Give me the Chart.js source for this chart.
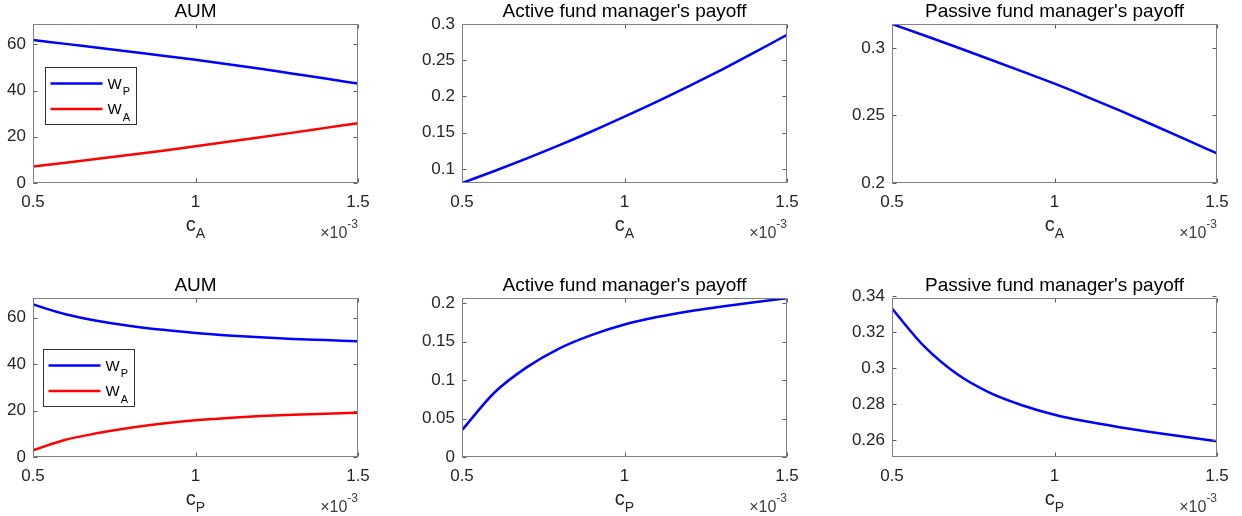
<!DOCTYPE html>
<html>
<head>
<meta charset="utf-8">
<script src="https://cdn.jsdelivr.net/npm/chart.js@4.4.1/dist/chart.umd.min.js"></script>
<style>
    html, body { margin: 0; padding: 0; background: #fff; overflow: hidden; }
    body { width: 1242px; height: 516px; position: relative; }
    canvas { position: absolute; }
</style>
</head>
<body>
<script>
// x values are in units of 1e-3 (axis shows the x10^-3 multiplier)
const xValues = [0.5, 0.6, 0.7, 0.8, 0.9, 1.0, 1.1, 1.2, 1.3, 1.4, 1.5];
const xTicks = [0.5, 1, 1.5];

// varying c_A (top row)
const wP_cA = [61.9, 60.2, 58.5, 56.8, 55.1, 53.3, 51.4, 49.4, 47.3, 45.2, 43.0];
const wA_cA = [7.1, 8.75, 10.45, 12.2, 14.0, 15.9, 17.85, 19.8, 21.8, 23.85, 25.9];
const activePay_cA = [0.0806, 0.0972, 0.1146, 0.1328, 0.1520, 0.1722, 0.1929, 0.2146, 0.2372, 0.2607, 0.2850];
const passivePay_cA = [0.3177, 0.3092, 0.3005, 0.2916, 0.2826, 0.2735, 0.2638, 0.2537, 0.2433, 0.2327, 0.2219];

// varying c_P (bottom row)
const wP_cP = [65.6, 61.4, 58.5, 56.4, 54.7, 53.3, 52.3, 51.5, 50.8, 50.3, 49.8];
const wA_cP = [2.9, 7.4, 10.3, 12.6, 14.4, 15.8, 16.8, 17.6, 18.2, 18.65, 19.0];
const activePay_cP = [0.035, 0.084, 0.117, 0.1415, 0.159, 0.1725, 0.1822, 0.1898, 0.1958, 0.2015, 0.2068];
const passivePay_cP = [0.3332, 0.3120, 0.2968, 0.2865, 0.2795, 0.2742, 0.2704, 0.2673, 0.2645, 0.2619, 0.2595];

// y tick labels
const yTicksAUM = [0, 20, 40, 60];
const yTicksActive_cA = [0.1, 0.15, 0.2, 0.25, 0.3];
const yTicksPassive_cA = [0.2, 0.25, 0.3];
const yTicksActive_cP = [0, 0.05, 0.1, 0.15, 0.2];
const yTicksPassive_cP = [0.26, 0.28, 0.3, 0.32, 0.34];

const BLUE = '#0000ff';
const RED = '#ff0000';
const FONT = '"Liberation Sans", Arial, sans-serif';

// layout of the 2x3 grid (plot areas)
const AXIS_W = 60, PAD_TOP = 30, AXIS_H = 60, PAD_RIGHT = 40;
const PLOT_W = 325, PLOT_H = 159;
const colLeft = [33, 462, 892];
const rowTop = [24, 298];

const panels = [
    { row: 0, col: 0, title: 'AUM', xSub: 'A', yMin: 0, yMax: 68.8, yTicks: yTicksAUM,
      series: [{ label: 'W_P', values: wP_cA, color: BLUE }, { label: 'W_A', values: wA_cA, color: RED }],
      legend: { dx: 12, dy: 43 } },
    { row: 0, col: 1, title: "Active fund manager's payoff", xSub: 'A', yMin: 0.0806, yMax: 0.3, yTicks: yTicksActive_cA,
      series: [{ label: 'active', values: activePay_cA, color: BLUE }] },
    { row: 0, col: 2, title: "Passive fund manager's payoff", xSub: 'A', yMin: 0.2, yMax: 0.3177, yTicks: yTicksPassive_cA,
      series: [{ label: 'passive', values: passivePay_cA, color: BLUE }] },
    { row: 1, col: 0, title: 'AUM', xSub: 'P', yMin: 0, yMax: 68.4, yTicks: yTicksAUM,
      series: [{ label: 'W_P', values: wP_cP, color: BLUE }, { label: 'W_A', values: wA_cP, color: RED }],
      legend: { dx: 10, dy: 51 } },
    { row: 1, col: 1, title: "Active fund manager's payoff", xSub: 'P', yMin: 0, yMax: 0.207, yTicks: yTicksActive_cP,
      series: [{ label: 'active', values: activePay_cP, color: BLUE }] },
    { row: 1, col: 2, title: "Passive fund manager's payoff", xSub: 'P', yMin: 0.2507, yMax: 0.3391, yTicks: yTicksPassive_cP,
      series: [{ label: 'passive', values: passivePay_cP, color: BLUE }] }
];

// draws the MATLAB-like box, inward ticks, title, x label, exponent and legend
const matlabLook = {
    id: 'matlabLook',
    afterDraw(chart, args, opts) {
        const { ctx, chartArea: a, scales } = chart;
        const L = Math.round(a.left) + 0.5, R = Math.round(a.right) - 0.5;
        const T = Math.round(a.top) + 0.5, B = Math.round(a.bottom) - 0.5;
        ctx.save();

        // inward tick marks on all four sides
        ctx.strokeStyle = '#5a5a5a';
        ctx.lineWidth = 1;
        ctx.beginPath();
        scales.x.ticks.forEach(t => {
            const px = Math.round(scales.x.getPixelForValue(t.value)) + 0.5;
            ctx.moveTo(px, B); ctx.lineTo(px, B - 4);
            ctx.moveTo(px, T); ctx.lineTo(px, T + 4);
        });
        scales.y.ticks.forEach(t => {
            const py = Math.round(scales.y.getPixelForValue(t.value)) + 0.5;
            ctx.moveTo(L, py); ctx.lineTo(L + 4, py);
            ctx.moveTo(R, py); ctx.lineTo(R - 4, py);
        });
        ctx.stroke();

        // axes box
        ctx.strokeStyle = '#808080';
        ctx.strokeRect(L, T, R - L, B - T);

        // title
        ctx.fillStyle = '#000';
        ctx.textAlign = 'left';
        ctx.textBaseline = 'alphabetic';
        ctx.font = '19px ' + FONT;
        const tw = ctx.measureText(opts.title).width;
        ctx.fillText(opts.title, (a.left + a.right) / 2 - tw / 2, a.top - 7);

        // x label c with subscript
        ctx.fillStyle = '#262626';
        ctx.font = '20px ' + FONT;
        const cw = ctx.measureText('c').width;
        ctx.font = '14px ' + FONT;
        const sw = ctx.measureText(opts.xSub).width;
        const cx = (a.left + a.right) / 2 - (cw + sw) / 2;
        ctx.font = '20px ' + FONT;
        ctx.fillText('c', cx, a.bottom + 47.5);
        ctx.font = '14px ' + FONT;
        ctx.fillText(opts.xSub, cx + cw, a.bottom + 55);

        // x10^-3 multiplier
        ctx.fillStyle = '#404040';
        ctx.font = '12px ' + FONT;
        const ew = ctx.measureText('-3').width;
        ctx.font = '16px ' + FONT;
        const mw = ctx.measureText('\u00d710').width;
        ctx.fillText('\u00d710', a.right - ew - mw, a.bottom + 54.5);
        ctx.font = '12px ' + FONT;
        ctx.fillText('-3', a.right - ew, a.bottom + 44.5);

        // legend box
        if (opts.legend) {
            const bx = Math.round(a.left + opts.legend.dx) + 0.5;
            const by = Math.round(a.top + opts.legend.dy) + 0.5;
            const bw = 91, bh = 57;
            ctx.fillStyle = '#fff';
            ctx.fillRect(bx, by, bw, bh);
            ctx.strokeStyle = '#333';
            ctx.lineWidth = 1;
            ctx.strokeRect(bx, by, bw, bh);
            chart.data.datasets.forEach((ds, i) => {
                const ly = by + 16 + i * 25.5;
                ctx.strokeStyle = ds.borderColor;
                ctx.lineWidth = 2.5;
                ctx.beginPath();
                ctx.moveTo(bx + 5, ly);
                ctx.lineTo(bx + 57, ly);
                ctx.stroke();
                const [main, sub] = ds.label.split('_');
                ctx.fillStyle = '#000';
                ctx.font = '15px ' + FONT;
                ctx.fillText(main, bx + 62, ly + 5);
                const ww = ctx.measureText(main).width;
                ctx.font = '11px ' + FONT;
                ctx.fillText(sub, bx + 62 + ww + 1, ly + 11.5);
            });
        }
        ctx.restore();
    }
};

function fmt(v) {
    return String(+Number(v).toFixed(4));
}

function createPanel(p) {
    const canvas = document.createElement('canvas');
    canvas.width = AXIS_W + PLOT_W + PAD_RIGHT;
    canvas.height = PAD_TOP + PLOT_H + AXIS_H;
    canvas.style.left = (colLeft[p.col] - AXIS_W) + 'px';
    canvas.style.top = (rowTop[p.row] - PAD_TOP) + 'px';
    document.body.appendChild(canvas);

    const tickFont = { family: FONT, size: 17 };

    return new Chart(canvas, {
        type: 'line',
        data: {
            datasets: p.series.map(s => ({
                label: s.label,
                data: xValues.map((x, i) => ({ x: x, y: s.values[i] })),
                borderColor: s.color,
                borderWidth: 2.5,
                pointRadius: 0,
                fill: false,
                cubicInterpolationMode: 'monotone'
            }))
        },
        options: {
            responsive: false,
            animation: false,
            devicePixelRatio: 1,
            layout: { padding: { top: PAD_TOP, right: PAD_RIGHT, left: 0, bottom: 0 } },
            scales: {
                x: {
                    type: 'linear',
                    min: 0.5,
                    max: 1.5,
                    afterBuildTicks: scale => { scale.ticks = xTicks.map(v => ({ value: v })); },
                    afterFit: scale => { scale.height = AXIS_H; },
                    grid: { display: false, drawTicks: false },
                    border: { display: false },
                    ticks: { color: '#262626', font: tickFont, padding: 9, maxRotation: 0, callback: v => fmt(v) }
                },
                y: {
                    type: 'linear',
                    min: p.yMin,
                    max: p.yMax,
                    afterBuildTicks: scale => { scale.ticks = p.yTicks.map(v => ({ value: v })); },
                    afterFit: scale => { scale.width = AXIS_W; },
                    grid: { display: false, drawTicks: false },
                    border: { display: false },
                    ticks: { color: '#262626', font: tickFont, padding: 7, callback: v => fmt(v) }
                }
            },
            plugins: {
                legend: { display: false },
                tooltip: { enabled: false },
                title: { display: false },
                matlabLook: { title: p.title, xSub: p.xSub, legend: p.legend || null }
            }
        },
        plugins: [matlabLook]
    });
}

panels.forEach(createPanel);
</script>
</body>
</html>
